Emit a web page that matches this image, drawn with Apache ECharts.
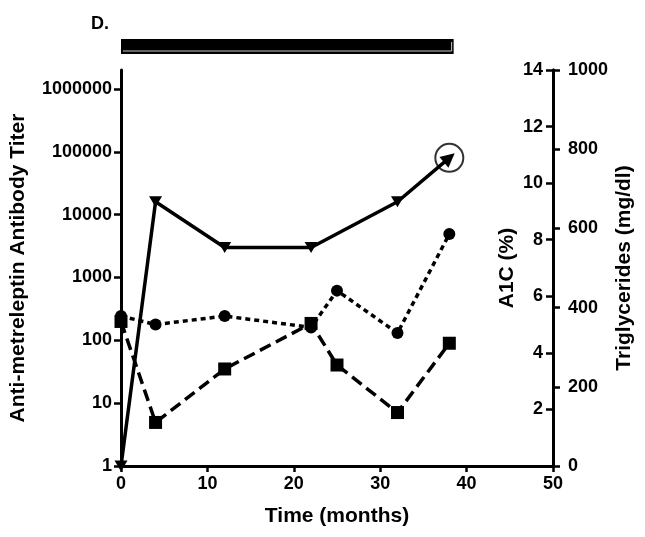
<!DOCTYPE html>
<html>
<head>
<meta charset="utf-8">
<script src="https://cdn.jsdelivr.net/npm/echarts@6/dist/echarts.min.js"></script>
<style>
html,body{margin:0;padding:0;background:#fff;}
#chart{width:645px;height:537px;}
</style>
</head>
<body>
<div id="chart"></div>
<script>
// ---- data ----
const titerMonths = [0, 4, 12, 22, 32, 38];
const titerValues = [1, 16000, 3000, 3000, 16000, 80000];
const a1cMonths = [0, 4, 12, 22, 25, 32, 38];
const a1cValues = [5.3, 5.0, 5.3, 4.9, 6.2, 4.7, 8.2];
const tgMonths = [0, 4, 12, 22, 25, 32, 38];
const tgValues = [365, 110, 245, 360, 255, 135, 310];
const treatmentStart = [0];
const treatmentEnd = [38.5];
const titerTicks = [1, 10, 100, 1000, 10000, 100000, 1000000];

const FONT = 'Liberation Sans, Arial, sans-serif';
const lbl = { color: '#000', fontFamily: FONT, fontWeight: 'bold', fontSize: 18 };
const nameStyle = { color: '#000', fontFamily: FONT, fontWeight: 'bold', fontSize: 21 };
const axLine = { show: true, lineStyle: { color: '#000', width: 3 } };

const lastIdx = titerMonths.length - 1;
const titerData = titerMonths.map((m, i) => i === lastIdx
  ? { value: [m, titerValues[i]], symbol: 'triangle', symbolRotate: -50, symbolSize: [14, 14] }
  : { value: [m, titerValues[i]] });

const chart = echarts.init(document.getElementById('chart'));
chart.setOption({
  animation: false,
  backgroundColor: '#fff',
  title: { text: 'D.', left: 86, top: 10, textStyle: { color: '#000', fontFamily: FONT, fontWeight: 'bold', fontSize: 18 } },
  graphic: [{
    type: 'text', x: 507, y: 268, rotation: Math.PI / 2,
    style: { text: 'A1C (%)', fill: '#000', font: 'bold 21px ' + FONT, align: 'center', verticalAlign: 'middle' }
  }],
  grid: { left: 121, right: 92, top: 70, bottom: 71, containLabel: false, outerBoundsMode: 'none' },
  xAxis: {
    type: 'value', min: 0, max: 50, interval: 10,
    name: 'Time (months)', nameLocation: 'middle', nameGap: 40, nameTextStyle: nameStyle,
    axisLine: axLine,
    axisTick: { show: true, length: 6, lineStyle: { color: '#000', width: 2.5 } },
    axisLabel: Object.assign({ margin: 9 }, lbl),
    splitLine: { show: false }
  },
  yAxis: [
    {
      type: 'log', logBase: 10, min: 1, max: 2000000, position: 'left',
      name: 'Anti-metreleptin Antibody Titer', nameLocation: 'middle', nameGap: 92, nameRotate: 90,
      nameTextStyle: nameStyle, nameMoveOverlap: false,
      axisLine: axLine,
      axisTick: { show: true, length: 7, customValues: titerTicks, lineStyle: { color: '#000', width: 2.5 } },
      axisLabel: Object.assign({ margin: 9, customValues: titerTicks, formatter: v => String(Math.round(v)) }, lbl),
      splitLine: { show: false }
    },
    {
      type: 'value', min: 0, max: 14, interval: 2, position: 'right',
      axisLine: axLine,
      axisTick: { show: true, inside: true, length: 7, lineStyle: { color: '#000', width: 2.5 } },
      axisLabel: Object.assign({ inside: true, margin: 10, showMinLabel: false }, lbl),
      splitLine: { show: false }
    },
    {
      type: 'value', min: 0, max: 1000, interval: 200, position: 'right',
      name: 'Triglycerides (mg/dl)', nameLocation: 'middle', nameGap: 61, nameRotate: 90,
      nameTextStyle: nameStyle, nameMoveOverlap: false,
      axisLine: axLine,
      axisTick: { show: true, length: 7, lineStyle: { color: '#000', width: 2.5 } },
      axisLabel: Object.assign({ margin: 15, formatter: v => String(v) }, lbl),
      splitLine: { show: false }
    }
  ],
  series: [
    {
      name: 'Treatment', type: 'custom', xAxisIndex: 0, yAxisIndex: 0, clip: false,
      data: treatmentStart.map((s, i) => [s, treatmentEnd[i]]),
      renderItem: (params, api) => {
        const a = api.coord([api.value(0), 2000000]);
        const b = api.coord([api.value(1), 2000000]);
        const x0 = a[0], x1 = b[0];
        const y0 = a[1] - 31, y1 = a[1] - 16;
        return {
          type: 'group',
          children: [
            { type: 'rect', shape: { x: x0, y: y0, width: x1 - x0, height: y1 - y0 }, style: { fill: '#000' } },
            { type: 'polyline', shape: { points: [[x0 + 2, y1 - 3], [x1 - 2, y1 - 3], [x1 - 2, y0 + 3]] },
              style: { stroke: '#c8c8c8', lineWidth: 1, fill: 'none' } }
          ]
        };
      }
    },
    {
      name: 'Triglycerides', type: 'line', xAxisIndex: 0, yAxisIndex: 2,
      data: tgMonths.map((m, i) => [m, tgValues[i]]),
      symbol: 'rect', symbolSize: 13,
      itemStyle: { color: '#000' },
      lineStyle: { color: '#000', width: 3.5, type: [12, 6] }
    },
    {
      name: 'A1C', type: 'line', xAxisIndex: 0, yAxisIndex: 1,
      data: a1cMonths.map((m, i) => [m, a1cValues[i]]),
      symbol: 'circle', symbolSize: 12,
      itemStyle: { color: '#000' },
      lineStyle: { color: '#000', width: 3.5, type: [5, 4] }
    },
    {
      name: 'Titer', type: 'line', xAxisIndex: 0, yAxisIndex: 0,
      data: titerData,
      symbol: 'triangle', symbolRotate: 180, symbolSize: [13, 11],
      itemStyle: { color: '#000' },
      lineStyle: { color: '#000', width: 3.5 }
    },
    {
      name: 'Titer highlight', type: 'scatter', xAxisIndex: 0, yAxisIndex: 0,
      data: [[titerMonths[lastIdx], titerValues[lastIdx]]],
      symbol: 'circle', symbolSize: 28,
      itemStyle: { color: 'rgba(0,0,0,0)', borderColor: '#000', borderWidth: 2 },
      z: 5
    }
  ]
});
</script>
</body>
</html>
